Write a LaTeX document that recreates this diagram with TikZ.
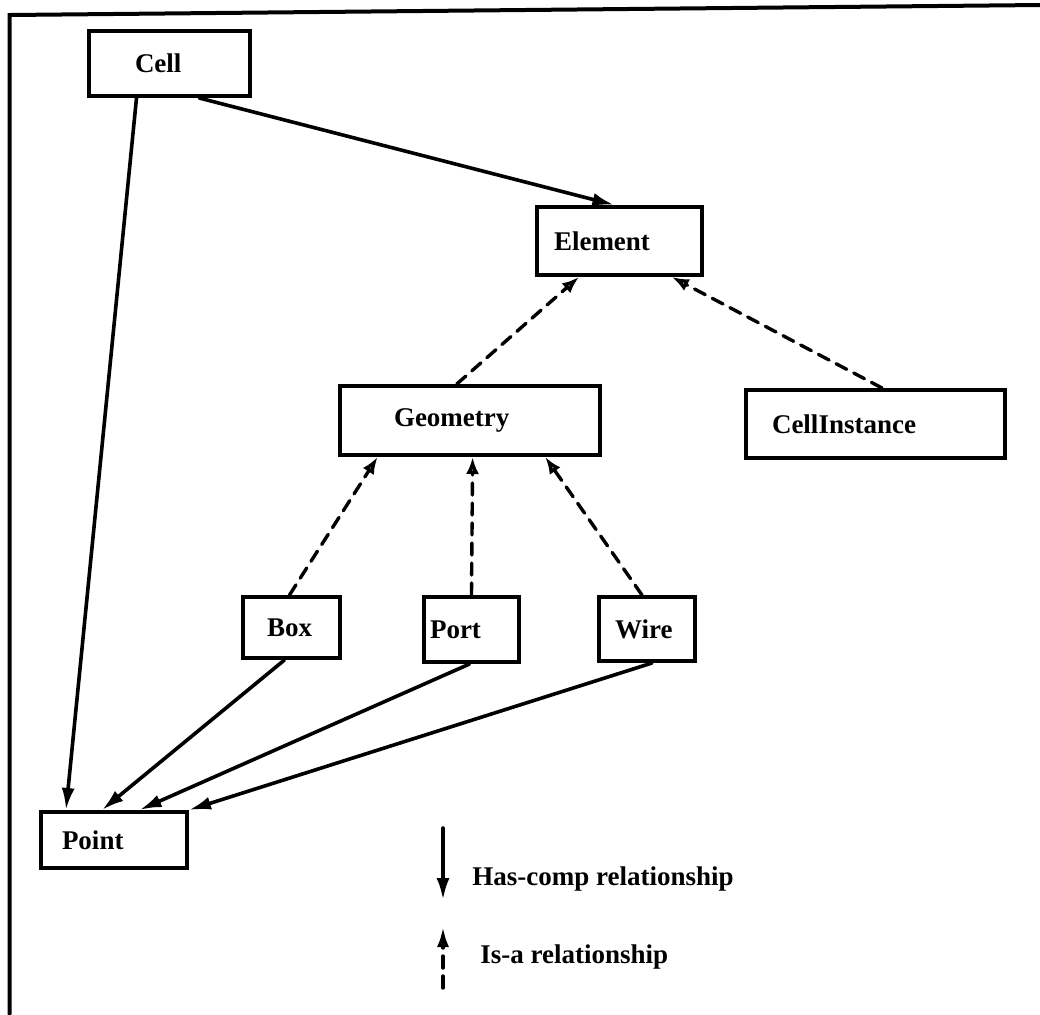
\documentclass[tikz,border=0pt]{standalone}
\usepackage{fontspec}
\setmainfont{Liberation Serif}
\usetikzlibrary{arrows.meta,calc}

\begin{document}
\begin{tikzpicture}[
  x=0.5pt, y=-0.5pt,
  line cap=round,
  cls/.style={draw, line width=2pt, anchor=west, inner ysep=0pt, align=left,
    font=\fontsize{13.5}{16}\selectfont\bfseries},
  hascomp/.style={line width=1.8pt, -{Latex[length=11pt,width=6.5pt]}},
  isa/.style={line width=1.7pt, dash pattern=on 6pt off 4pt,
    -{Latex[open,length=8.5pt,width=6.5pt]}},
  lab/.style={font=\fontsize{13.5}{16}\selectfont\bfseries, inner sep=0pt, anchor=base west}
]

% --- Page size and frame ---
\useasboundingbox (0,0) rectangle (1040,1014);
\draw[line width=2pt] (1040,5) -- (9.5,15) -- (9.5,1014);

% --- Classes ---
\node[cls, minimum height=32.5pt, inner xsep=23pt, text width=34.5pt] (cell) at (87,63.5) {Cell};
\node[cls, minimum height=34pt, inner xsep=8.5pt, text width=65.5pt] (element) at (535,241) {Element};
\node[cls, minimum height=34.5pt, inner xsep=27pt, text width=76pt] (geometry) at (338,420.5) {Geometry};
\node[cls, minimum height=34pt, inner xsep=13pt, text width=103.5pt] (cellinst) at (744,424) {CellInstance};
\node[cls, minimum height=30.5pt, inner xsep=12pt, text width=24.5pt] (box) at (241,627.5) {Box};
\node[cls, minimum height=32.5pt, inner xsep=3pt, text width=41.5pt] (port) at (422,629.5) {Port};
\node[cls, minimum height=32pt, inner xsep=8pt, text width=32pt] (wire) at (597,629) {Wire};
\node[cls, minimum height=28pt, inner xsep=10.5pt, text width=52pt] (point) at (39,840) {Point};

% --- Has-comp links ---
\draw[hascomp] ($(cell.south west)!.30!(cell.south east)$) -- ($(point.north west)!.18!(point.north east)$);
\draw[hascomp] ($(cell.south west)!.68!(cell.south east)$) -- ($(element.north west)!.47!(element.north east)$);
\draw[hascomp] ($(box.south west)!.43!(box.south east)$) -- ($(point.north west)!.42!(point.north east)$);
\draw[hascomp] ($(port.south west)!.48!(port.south east)$) -- ($(point.north west)!.67!(point.north east)$);
\draw[hascomp] ($(wire.south west)!.55!(wire.south east)$) -- (point.north east);

% --- Is-a links ---
\draw[isa] ($(geometry.north west)!.45!(geometry.north east)$) -- ($(element.south west)!.26!(element.south east)$);
\draw[isa] ($(cellinst.north west)!.525!(cellinst.north east)$) -- ($(element.south west)!.81!(element.south east)$);
\draw[isa] ($(box.north west)!.48!(box.north east)$) -- ($(geometry.south west)!.15!(geometry.south east)$);
\draw[isa] ($(port.north west)!.5!(port.north east)$) -- ($(geometry.south west)!.51!(geometry.south east)$);
\draw[isa] ($(wire.north west)!.45!(wire.north east)$) -- ($(geometry.south west)!.785!(geometry.south east)$);

% --- Legend ---
\coordinate (hc1) at (443,828);
\coordinate (hc2) at (443,900);
\coordinate (ia1) at (443,988);
\coordinate (ia2) at (443,927);
\draw[hascomp] (hc1) -- (hc2);
\draw[line width=1.7pt, dash pattern=on 6pt off 4pt, -{Latex[length=10pt,width=6pt]}] (ia1) -- (ia2);
\node[lab] (hclab) at (472,885) {Has-comp relationship};
\node[lab] (ialab) at (480,963) {Is-a relationship};
\end{tikzpicture}
\end{document}
